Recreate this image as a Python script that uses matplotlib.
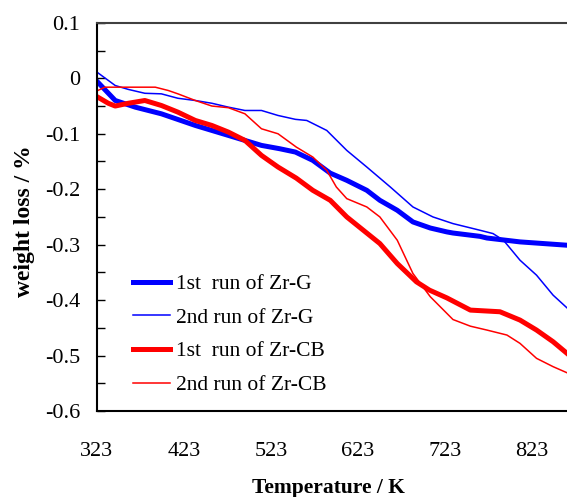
import matplotlib
matplotlib.use("Agg")
import matplotlib.pyplot as plt

plt.rcParams["font.family"] = ["Liberation Serif", "DejaVu Serif"]

# values (temperature in K, weight loss in %)
t_g1 = [324, 344, 367, 397, 436, 474, 512, 533, 551, 571, 591, 610, 633, 648,
        668, 686, 706, 725, 732, 763, 771, 809, 863]
w_g1 = [-0.007, -0.040, -0.052, -0.064, -0.085, -0.103, -0.121, -0.127, -0.133,
        -0.148, -0.171, -0.184, -0.202, -0.220, -0.238, -0.259, -0.270, -0.277,
        -0.279, -0.285, -0.288, -0.295, -0.301]

t_g2 = [324, 344, 359, 378, 397, 416, 436, 455, 474, 493, 512, 531, 551, 564,
        587, 610, 633, 660, 686, 709, 732, 763, 778, 790, 809, 828, 847, 863]
w_g2 = [0.010, -0.013, -0.020, -0.027, -0.028, -0.036, -0.040, -0.045, -0.052,
        -0.058, -0.058, -0.067, -0.074, -0.076, -0.094, -0.130, -0.160, -0.196,
        -0.232, -0.250, -0.262, -0.274, -0.280, -0.292, -0.328, -0.355, -0.391,
        -0.414]

t_cb1 = [324, 336, 344, 359, 378, 397, 416, 436, 455, 474, 493, 512, 531, 552,
         571, 591, 610, 629, 648, 668, 690, 705, 725, 752, 786, 809, 828, 847, 863]
w_cb1 = [-0.034, -0.045, -0.050, -0.045, -0.040, -0.049, -0.061, -0.076, -0.085,
         -0.097, -0.112, -0.139, -0.160, -0.180, -0.202, -0.220, -0.250, -0.274,
         -0.298, -0.334, -0.367, -0.382, -0.396, -0.418, -0.421, -0.436, -0.454,
         -0.475, -0.496]

t_cb2 = [324, 332, 359, 390, 405, 416, 436, 455, 474, 493, 512, 531, 552, 571,
         587, 598, 610, 633, 648, 668, 686, 706, 732, 752, 771, 794, 809, 828,
         847, 863]
w_cb2 = [-0.022, -0.016, -0.016, -0.016, -0.022, -0.028, -0.040, -0.050, -0.053,
         -0.064, -0.091, -0.100, -0.124, -0.142, -0.166, -0.196, -0.217, -0.232,
         -0.250, -0.292, -0.352, -0.394, -0.435, -0.447, -0.454, -0.463, -0.478,
         -0.505, -0.520, -0.531]

x_ticks = [323, 423, 523, 623, 723, 823]
y_ticks = [0.1, 0.05, 0.0, -0.05, -0.1, -0.15, -0.2, -0.25, -0.3, -0.35, -0.4,
           -0.45, -0.5, -0.55, -0.6]
y_labels = ["0.1", "", "0", "", "-0.1", "", "-0.2", "", "-0.3", "", "-0.4", "",
            "-0.5", "", "-0.6"]

fig = plt.figure(figsize=(5.67, 4.97), dpi=100)
ax = fig.add_axes([0.171, 0.173, 0.829, 0.781])

ax.plot(t_g1, w_g1, color="#0000ff", lw=3.6, label="1st  run of Zr-G")
ax.plot(t_g2, w_g2, color="#0000ff", lw=1.1, label="2nd run of Zr-G")
ax.plot(t_cb1, w_cb1, color="#ff0000", lw=3.6, label="1st  run of Zr-CB")
ax.plot(t_cb2, w_cb2, color="#ff0000", lw=1.1, label="2nd run of Zr-CB")

ax.set_xlim(323, 863)
ax.set_ylim(-0.6, 0.1)
ax.set_xticks(x_ticks)
ax.set_yticks(y_ticks)
ax.set_yticklabels(y_labels)
ax.tick_params(axis="x", length=0, pad=22, labelsize=16)
ax.tick_params(axis="y", direction="in", length=6, width=1, pad=12, labelsize=16)

ax.spines["right"].set_visible(False)
ax.spines["top"].set_color("#404040")
ax.spines["top"].set_linewidth(1.5)
ax.spines["left"].set_linewidth(1.5)
ax.spines["bottom"].set_linewidth(1.5)

ax.set_xlabel("Temperature / K", fontsize=15.5, fontweight="bold")
ax.xaxis.set_label_coords(0.4926, -0.173)
ax.set_ylabel("weight loss / %", fontsize=17, fontweight="bold")
ax.yaxis.set_label_coords(-0.132, 0.49)

ax.legend(loc="upper left", bbox_to_anchor=(0.058, 0.375), frameon=False,
          fontsize=15.5, handlelength=1.72, handletextpad=0.28, labelspacing=0.63,
          borderaxespad=0)

fig.savefig("out.png", dpi=100)
